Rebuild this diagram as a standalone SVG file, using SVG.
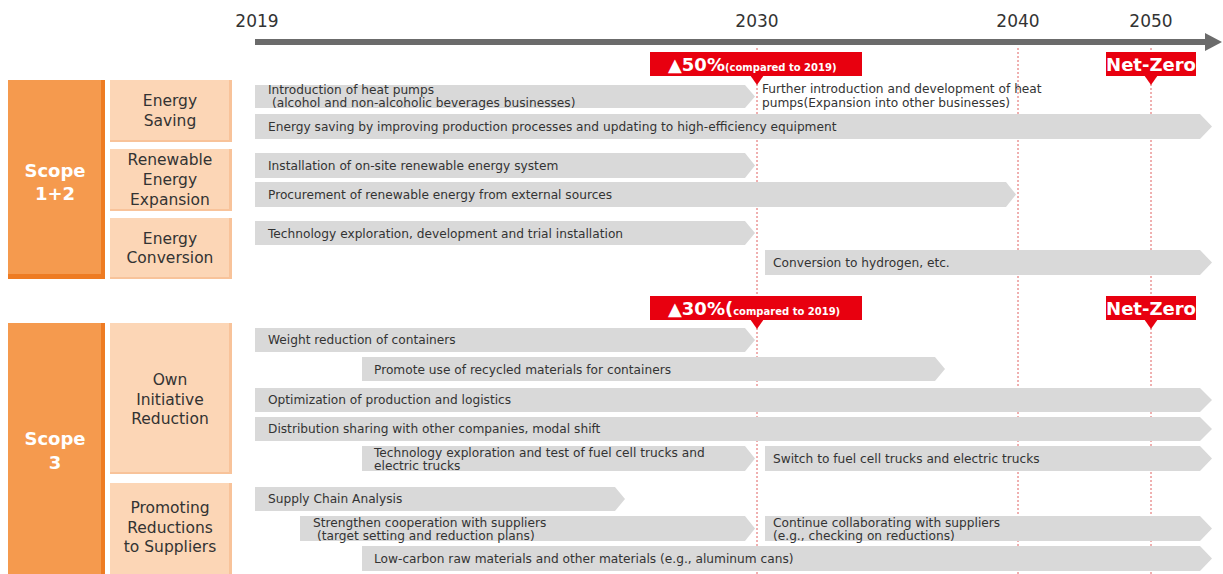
<svg xmlns="http://www.w3.org/2000/svg" width="1223" height="574" viewBox="0 0 1223 574">
<style>
.bar{fill:#D9D9D9}
.t{font-family:"DejaVu Sans",Verdana,sans-serif;font-size:12.2px;fill:#333}
.cat{font-family:"DejaVu Sans",Verdana,sans-serif;font-size:15.5px;fill:#333;text-anchor:middle}
.scope{font-family:"DejaVu Sans",Verdana,sans-serif;font-size:18px;font-weight:bold;fill:#fff;text-anchor:middle}
.yr{font-family:"DejaVu Sans",Verdana,sans-serif;font-size:17px;fill:#333;text-anchor:middle}
.big{font-family:"DejaVu Sans",Verdana,sans-serif;font-size:18px;font-weight:bold;fill:#fff}
.sm{font-size:10px}
.red{fill:#E8000F}
.dash{stroke:#E06060;stroke-width:1;stroke-dasharray:2 2;fill:none}
.sc{fill:#F59A4E}
.scd{fill:#EE7B22}
.sub{fill:#FCD6B6}
.subd{fill:#F8C39A}
</style>
<rect width="1223" height="574" fill="#fff"/>
<g id="timeline">
<line x1="255" y1="42" x2="1207" y2="42" stroke="#6B6B6B" stroke-width="6"/>
<polygon points="1205,33 1222,42 1205,51" fill="#6B6B6B"/>
<text class="yr" x="257" y="27">2019</text>
<text class="yr" x="757" y="27">2030</text>
<text class="yr" x="1018" y="27">2040</text>
<text class="yr" x="1151" y="27">2050</text>
</g>
<g id="gridlines">
<line class="dash" x1="757" y1="48" x2="757" y2="574"/>
<line class="dash" x1="1018" y1="48" x2="1018" y2="574"/>
<line class="dash" x1="1151" y1="48" x2="1151" y2="574"/>
</g>
<g id="scope12">
<rect class="scd" x="8" y="80" width="97" height="199"/>
<rect class="sc" x="8" y="80" width="93" height="194"/>
<text class="scope" x="55" y="177">Scope</text>
<text class="scope" x="55" y="200">1+2</text>
</g>
<g id="energy-saving">
<rect class="subd" x="110" y="80" width="122" height="62"/>
<rect class="sub" x="110" y="80" width="119" height="60"/>
<text class="cat" x="170" y="106">Energy</text>
<text class="cat" x="170" y="126">Saving</text>
</g>
<g id="renewable">
<rect class="subd" x="110" y="149" width="122" height="62"/>
<rect class="sub" x="110" y="149" width="119" height="60"/>
<text class="cat" x="170" y="165">Renewable</text>
<text class="cat" x="170" y="185">Energy</text>
<text class="cat" x="170" y="205">Expansion</text>
</g>
<g id="conversion">
<rect class="subd" x="110" y="218" width="122" height="61"/>
<rect class="sub" x="110" y="218" width="119" height="59"/>
<text class="cat" x="170" y="244">Energy</text>
<text class="cat" x="170" y="263">Conversion</text>
</g>
<g id="scope3">
<rect class="scd" x="8" y="323" width="97" height="251"/>
<rect class="sc" x="8" y="323" width="93" height="251"/>
<text class="scope" x="55" y="445">Scope</text>
<text class="scope" x="55" y="469">3</text>
</g>
<g id="own-initiative">
<rect class="subd" x="110" y="323" width="122" height="151"/>
<rect class="sub" x="110" y="323" width="119" height="149"/>
<text class="cat" x="170" y="385">Own</text>
<text class="cat" x="170" y="405">Initiative</text>
<text class="cat" x="170" y="424">Reduction</text>
</g>
<g id="suppliers">
<rect class="subd" x="110" y="483" width="122" height="91"/>
<rect class="sub" x="110" y="483" width="119" height="91"/>
<text class="cat" x="170" y="513">Promoting</text>
<text class="cat" x="170" y="533">Reductions</text>
<text class="cat" x="170" y="552">to Suppliers</text>
</g>
<g id="target50">
<rect class="red" x="650" y="52" width="212" height="24"/>
<polygon class="red" points="750,75 764,75 757,85"/>
<text class="big" x="668" y="71">▲50%<tspan class="sm">(compared to 2019)</tspan></text>
</g>
<g id="netzero1">
<rect class="red" x="1106" y="52" width="90" height="24"/>
<polygon class="red" points="1144,75 1158,75 1151,85"/>
<text class="big" x="1151" y="71" text-anchor="middle">Net-Zero</text>
</g>
<g id="target30">
<rect class="red" x="650" y="296" width="212" height="24"/>
<polygon class="red" points="750,319 764,319 757,329"/>
<text class="big" x="668" y="315">▲30%(<tspan class="sm">compared to 2019)</tspan></text>
</g>
<g id="netzero2">
<rect class="red" x="1106" y="296" width="90" height="24"/>
<polygon class="red" points="1144,319 1158,319 1151,329"/>
<text class="big" x="1151" y="315" text-anchor="middle">Net-Zero</text>
</g>
<g id="bars12">
<polygon class="bar" points="255,85 745,85 755,96.5 745,108 255,108"/>
<text class="t" x="268" y="94">Introduction of heat pumps</text>
<text class="t" x="272" y="107">(alcohol and non-alcoholic beverages businesses)</text>
<text class="t" x="762" y="93">Further introduction and development of heat</text>
<text class="t" x="762" y="107">pumps(Expansion into other businesses)</text>
<polygon class="bar" points="255,114 1200,114 1212,126.5 1200,139 255,139"/>
<text class="t" x="268" y="131">Energy saving by improving production processes and updating to high-efficiency equipment</text>
<polygon class="bar" points="255,153 745,153 755,165.5 745,178 255,178"/>
<text class="t" x="268" y="170">Installation of on-site renewable energy system</text>
<polygon class="bar" points="255,182 1006,182 1016,194.5 1006,207 255,207"/>
<text class="t" x="268" y="199">Procurement of renewable energy from external sources</text>
<polygon class="bar" points="255,221 745,221 755,233 745,245 255,245"/>
<text class="t" x="268" y="238">Technology exploration, development and trial installation</text>
<polygon class="bar" points="765,250 1200,250 1212,262.5 1200,275 765,275"/>
<text class="t" x="773" y="267">Conversion to hydrogen, etc.</text>
</g>
<g id="bars3">
<polygon class="bar" points="255,328 745,328 755,340 745,352 255,352"/>
<text class="t" x="268" y="344">Weight reduction of containers</text>
<polygon class="bar" points="362,357 935,357 945,369 935,381 362,381"/>
<text class="t" x="374" y="374">Promote use of recycled materials for containers</text>
<polygon class="bar" points="255,388 1200,388 1212,400 1200,412 255,412"/>
<text class="t" x="268" y="404">Optimization of production and logistics</text>
<polygon class="bar" points="255,417 1200,417 1212,429 1200,441 255,441"/>
<text class="t" x="268" y="433">Distribution sharing with other companies, modal shift</text>
<polygon class="bar" points="362,446 745,446 755,458.5 745,471 362,471"/>
<text class="t" x="374" y="457">Technology exploration and test of fuel cell trucks and</text>
<text class="t" x="374" y="470">electric trucks</text>
<polygon class="bar" points="765,446 1200,446 1212,458.5 1200,471 765,471"/>
<text class="t" x="773" y="463">Switch to fuel cell trucks and electric trucks</text>
<polygon class="bar" points="255,487 615,487 625,499 615,511 255,511"/>
<text class="t" x="268" y="503">Supply Chain Analysis</text>
<polygon class="bar" points="300,516 745,516 755,528.5 745,541 300,541"/>
<text class="t" x="313" y="527">Strengthen cooperation with suppliers</text>
<text class="t" x="317" y="540">(target setting and reduction plans)</text>
<polygon class="bar" points="765,516 1200,516 1212,528.5 1200,541 765,541"/>
<text class="t" x="773" y="527">Continue collaborating with suppliers</text>
<text class="t" x="773" y="540">(e.g., checking on reductions)</text>
<polygon class="bar" points="362,546 1200,546 1212,558.5 1200,571 362,571"/>
<text class="t" x="374" y="563">Low-carbon raw materials and other materials (e.g., aluminum cans)</text>
</g>
</svg>
